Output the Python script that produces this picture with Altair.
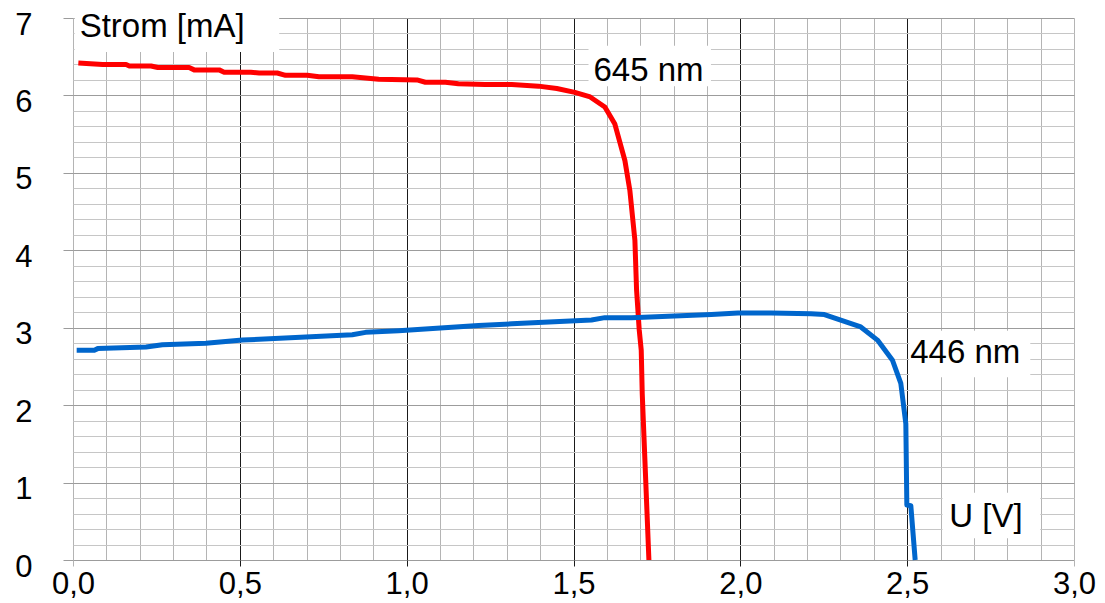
import altair as alt
import pandas as pd

# ---- data ----
volt_645 = [0.016, 0.089, 0.159, 0.169, 0.234, 0.254, 0.348, 0.363, 0.438, 0.453,
            0.533, 0.558, 0.612, 0.637, 0.702, 0.737, 0.837, 0.916, 1.031, 1.056,
            1.116, 1.155, 1.235, 1.315, 1.395, 1.45, 1.504, 1.55, 1.594, 1.624,
            1.654, 1.669, 1.684, 1.689, 1.697, 1.703, 1.706, 1.726]
curr_645 = [6.42, 6.40, 6.40, 6.38, 6.38, 6.36, 6.36, 6.33, 6.33, 6.30,
            6.30, 6.29, 6.29, 6.26, 6.26, 6.24, 6.24, 6.21, 6.20, 6.17,
            6.17, 6.15, 6.14, 6.14, 6.12, 6.09, 6.04, 5.98, 5.85, 5.63,
            5.16, 4.77, 4.13, 3.49, 2.97, 2.71, 2.15, 0.0]

volt_446 = [0.011, 0.064, 0.074, 0.219, 0.268, 0.398, 0.508, 0.837, 0.877, 0.976,
            1.215, 1.315, 1.554, 1.594, 1.674, 1.913, 1.993, 2.092, 2.212, 2.252,
            2.361, 2.411, 2.456, 2.481, 2.496, 2.499, 2.511, 2.524]
curr_446 = [2.71, 2.71, 2.73, 2.75, 2.78, 2.80, 2.84, 2.91, 2.94, 2.96,
            3.03, 3.05, 3.10, 3.13, 3.13, 3.17, 3.19, 3.19, 3.18, 3.17,
            3.01, 2.84, 2.58, 2.28, 1.76, 0.71, 0.70, 0.0]

series_names = ["645 nm", "446 nm"]
series_colors = ["#ff0000", "#0066cc"]

x_ticks = [round(i * 0.1, 1) for i in range(31)]
y_ticks = [round(i * 0.2, 1) for i in range(36)]

label_texts = ["Strom [mA]", "645 nm", "446 nm", "U [V]"]
label_x = [0.02, 1.56, 2.509, 2.626]
label_y = [6.88, 6.31, 2.67, 0.56]
box_x1 = [0.005, 1.545, 2.506, 2.606]
box_x2 = [0.618, 1.912, 2.869, 2.899]
box_y1 = [6.56, 6.12, 2.36, 0.28]
box_y2 = [7.03, 6.64, 2.96, 0.87]

# ---- tables ----
rows = []
for i, (v, c) in enumerate(zip(volt_645, curr_645)):
    rows.append({"U": v, "I": c, "serie": series_names[0], "ord": i})
for i, (v, c) in enumerate(zip(volt_446, curr_446)):
    rows.append({"U": v, "I": c, "serie": series_names[1], "ord": i})
curves = pd.DataFrame(rows)

ann = pd.DataFrame({"text": label_texts, "x": label_x, "y": label_y,
                    "x1": box_x1, "x2": box_x2, "y1": box_y1, "y2": box_y2})

FONT = "Liberation Sans"
xs = alt.Scale(domain=[0, 3], nice=False, zero=False)
ys = alt.Scale(domain=[0, 7], nice=False, zero=False)

x_major = "abs(datum.value*2 - round(datum.value*2)) < 0.001"
x_inner_major = x_major + " && datum.value > 0.01 && datum.value < 2.99"
y_major = "abs(datum.value - round(datum.value)) < 0.001"

x_axis = alt.Axis(
    values=x_ticks, tickCount=100, title=None, domain=False, grid=True,
    gridColor={"condition": {"test": x_inner_major, "value": "#1a1a1a"}, "value": "#b4b4b4"},
    tickColor={"condition": {"test": x_inner_major, "value": "#1a1a1a"}, "value": "#b4b4b4"},
    tickOpacity={"condition": {"test": x_major, "value": 1}, "value": 0},
    tickSize=6, labelPadding=3,
    labelExpr=f"{x_major} ? replace(format(datum.value, '.1f'), '.', ',') : ''",
    labelFont=FONT, labelFontSize=31, labelColor="#000000",
    labelOverlap=False, labelFlush=False,
)
y_axis = alt.Axis(
    values=y_ticks, tickCount=100, title=None, domain=False, grid=True,
    gridColor={"condition": {"test": y_major, "value": "#9c9c9c"}, "value": "#c6c6c6"},
    tickColor="#9c9c9c",
    tickOpacity={"condition": {"test": y_major, "value": 1}, "value": 0},
    tickSize=10, labelPadding=31, labelOffset=7,
    labelExpr=f"{y_major} ? format(datum.value, 'd') : ''",
    labelFont=FONT, labelFontSize=31, labelColor="#000000",
    labelOverlap=False, labelFlush=False, labelBound=False,
)

lines = alt.Chart(curves).mark_line(strokeWidth=5, strokeJoin="round", strokeCap="butt").encode(
    x=alt.X("U:Q", scale=xs, axis=x_axis),
    y=alt.Y("I:Q", scale=ys, axis=y_axis),
    color=alt.Color("serie:N", scale=alt.Scale(domain=series_names, range=series_colors), legend=None),
    detail="serie:N",
    order="ord:Q",
)

boxes = alt.Chart(ann).mark_rect(fill="#ffffff").encode(
    x="x1:Q", x2="x2:Q", y="y1:Q", y2="y2:Q",
)

texts = alt.Chart(ann).mark_text(align="left", baseline="middle", font=FONT,
                                  fontSize=33, color="#000000").encode(
    x="x:Q", y="y:Q", text="text:N",
)

chart = alt.layer(lines, boxes, texts).properties(
    width=1001, height=542,
    autosize=alt.AutoSizeParams(type="none"),
    padding={"left": 65, "top": 10, "right": 23, "bottom": 43},
    background="#ffffff",
).configure_view(stroke=None)

chart.save("out.html", embed_options={"renderer": "svg", "actions": False})
